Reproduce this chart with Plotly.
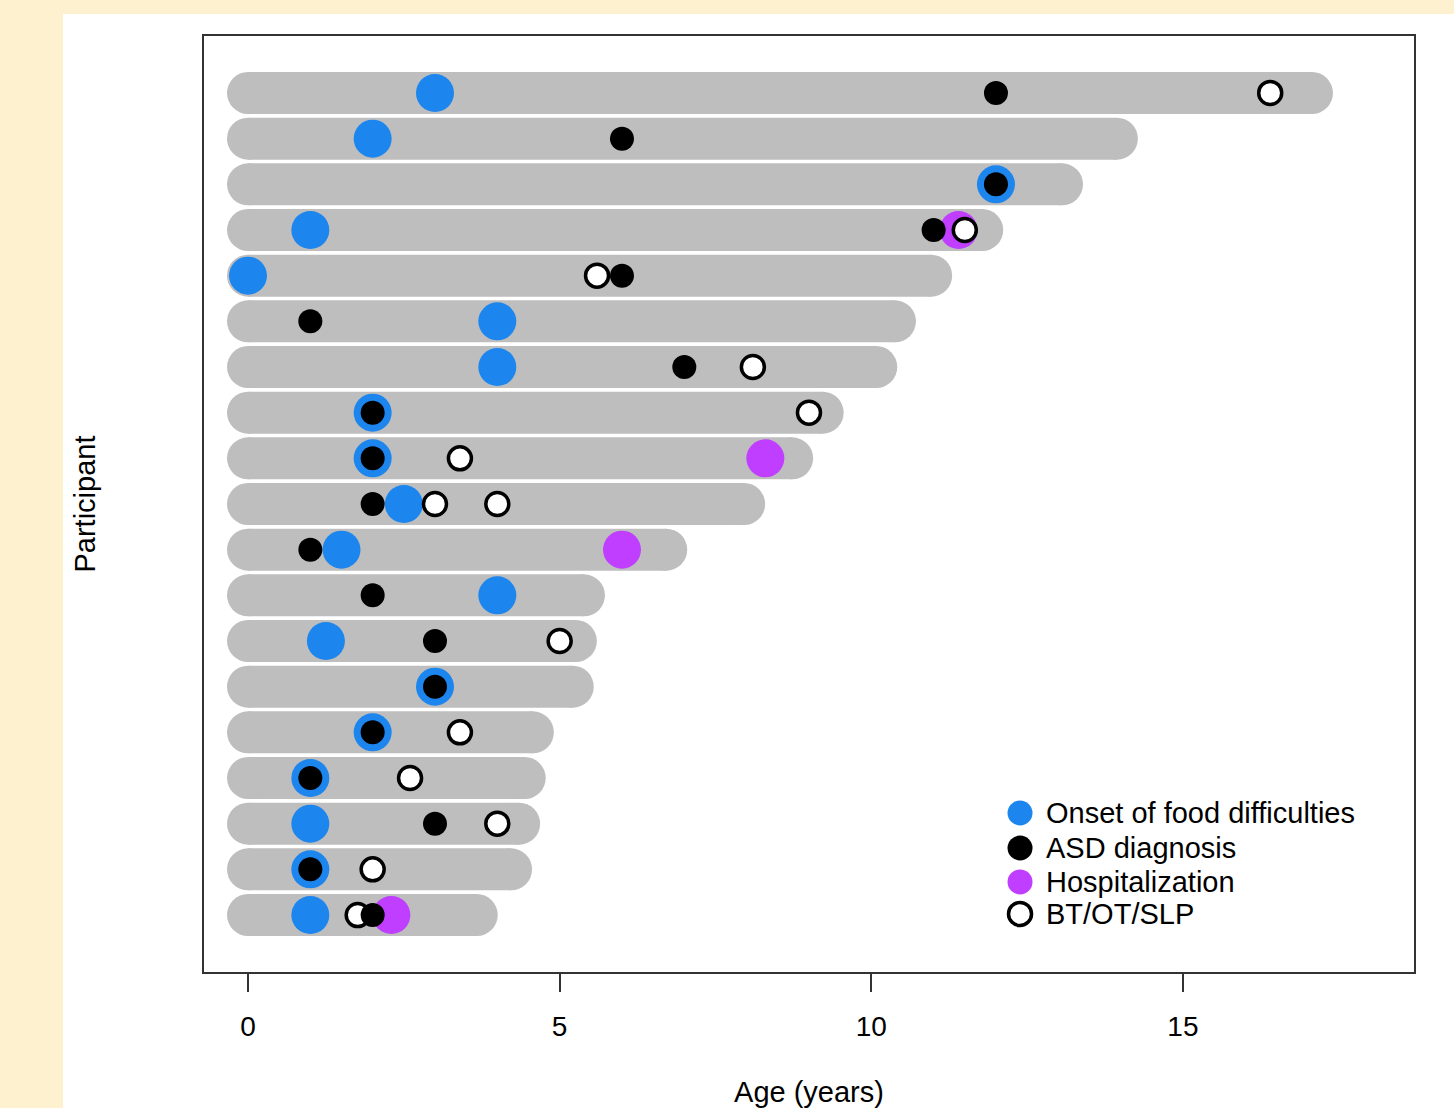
import plotly.graph_objects as go

# ---------------- data ----------------
participants = list(range(1, 20))  # 1 = top row
follow_up_age = [17.07, 13.94, 13.06, 11.78, 10.96, 10.38, 10.08, 9.22, 8.73, 7.96,
                 6.71, 5.39, 5.26, 5.21, 4.57, 4.44, 4.35, 4.22, 3.67]

onset_food = [3, 2, 12, 1, 0, 4, 4, 2, 2, 2.5, 1.5, 4, 1.25, 3, 2, 1, 1, 1, 1]
asd_diag = [12, 6, 12, 11, 6, 1, 7, 2, 2, 2, 1, 2, 3, 3, 2, 1, 3, 1, 2]

hosp_participant = [4, 9, 11, 19]
hosp_age = [11.4, 8.3, 6.0, 2.3]

therapy_participant = [1, 4, 5, 7, 8, 9, 10, 10, 13, 15, 16, 17, 18, 19]
therapy_age = [16.4, 11.5, 5.6, 8.1, 9.0, 3.4, 3.0, 4.0, 5.0, 3.4, 2.6, 4.0, 2.0, 1.76]

legend_labels = ["Onset of food difficulties", "ASD diagnosis", "Hospitalization", "BT/OT/SLP"]

# ---------------- styles ----------------
GRAY = "#BEBEBE"
BLUE = "#1C86EE"
PURPLE = "#BF3EFF"
BLACK = "#000000"
CREAM = "#FEF1CF"
FONT = "Liberation Sans, Arial, sans-serif"

fig = go.Figure()

# timeline bars (thick lines with round caps from end markers)
bx, by = [], []
for p, a in zip(participants, follow_up_age):
    bx += [0, a, None]
    by += [p, p, None]
fig.add_trace(go.Scatter(x=bx, y=by, mode="lines", line=dict(color=GRAY, width=42),
                         hoverinfo="skip", showlegend=False))
cx, cy = [], []
for p, a in zip(participants, follow_up_age):
    cx += [0, a]
    cy += [p, p]
fig.add_trace(go.Scatter(x=cx, y=cy, mode="markers",
                         marker=dict(color=GRAY, size=42, opacity=1, line=dict(width=0)),
                         hoverinfo="skip", showlegend=False))

# events
fig.add_trace(go.Scatter(x=onset_food, y=participants, mode="markers", name=legend_labels[0],
                         marker=dict(color=BLUE, size=38, opacity=1, line=dict(width=0)), showlegend=False))
fig.add_trace(go.Scatter(x=hosp_age, y=hosp_participant, mode="markers", name=legend_labels[2],
                         marker=dict(color=PURPLE, size=38, opacity=1, line=dict(width=0)), showlegend=False))
fig.add_trace(go.Scatter(x=therapy_age, y=therapy_participant, mode="markers", name=legend_labels[3],
                         marker=dict(color="white", size=23, opacity=1, line=dict(color=BLACK, width=3.5)),
                         showlegend=False))
fig.add_trace(go.Scatter(x=asd_diag, y=participants, mode="markers", name=legend_labels[1],
                         marker=dict(color=BLACK, size=24, opacity=1, line=dict(width=0)), showlegend=False))

# custom legend (markers on an overlay axis pair, text as annotations)
leg_y = [0.1699, 0.1325, 0.0962, 0.0620]
leg_colors = [BLUE, BLACK, PURPLE, "white"]
leg_lines = [0, 0, 0, 3.5]
fig.add_trace(go.Scatter(x=[0.6744] * 4, y=leg_y, mode="markers", xaxis="x2", yaxis="y2",
                         marker=dict(color=leg_colors, size=[25, 25, 25, 23], opacity=1,
                                     line=dict(color=BLACK, width=leg_lines)),
                         hoverinfo="skip", showlegend=False))
for lab, yy in zip(legend_labels, leg_y):
    fig.add_annotation(x=0.6944, y=yy, xref="paper", yref="paper", text=lab, showarrow=False,
                       xanchor="left", yanchor="middle", font=dict(size=29, color="black", family=FONT))

# white panel over cream page
fig.add_shape(type="rect", xref="paper", yref="paper", x0=-0.1165, x1=1.04, y0=-0.16, y1=1.0235,
              fillcolor="white", line=dict(width=0), layer="below")

fig.update_layout(
    width=1454, height=1108,
    margin=dict(l=204, r=40, t=36, b=136, autoexpand=False),
    paper_bgcolor=CREAM, plot_bgcolor="white",
    font=dict(family=FONT, color="black", size=28),
    showlegend=False,
    xaxis=dict(range=[-0.706, 18.707], tickvals=[0, 5, 10, 15], ticks="outside", ticklen=18,
               tickwidth=2, tickcolor="#333333", showgrid=False, zeroline=False,
               showline=True, linecolor="#333333", linewidth=2, mirror=True,
               ticklabelstandoff=10, automargin=False,
               tickfont=dict(size=28), title=dict(text="Age (years)", font=dict(size=29), standoff=44)),
    yaxis=dict(range=[20.248, -0.248], showticklabels=False, ticks="", showgrid=False, zeroline=False,
               showline=True, linecolor="#333333", linewidth=2, mirror=True, automargin=False,
               title=dict(text="Participant", font=dict(size=29), standoff=98)),
    xaxis2=dict(range=[0, 1], overlaying="x", visible=False),
    yaxis2=dict(range=[0, 1], overlaying="y", visible=False),
)

fig.write_html("out.html", config={"displayModeBar": False},
               post_script="document.body.style.margin='0';document.body.style.background='#FEF1CF';")
